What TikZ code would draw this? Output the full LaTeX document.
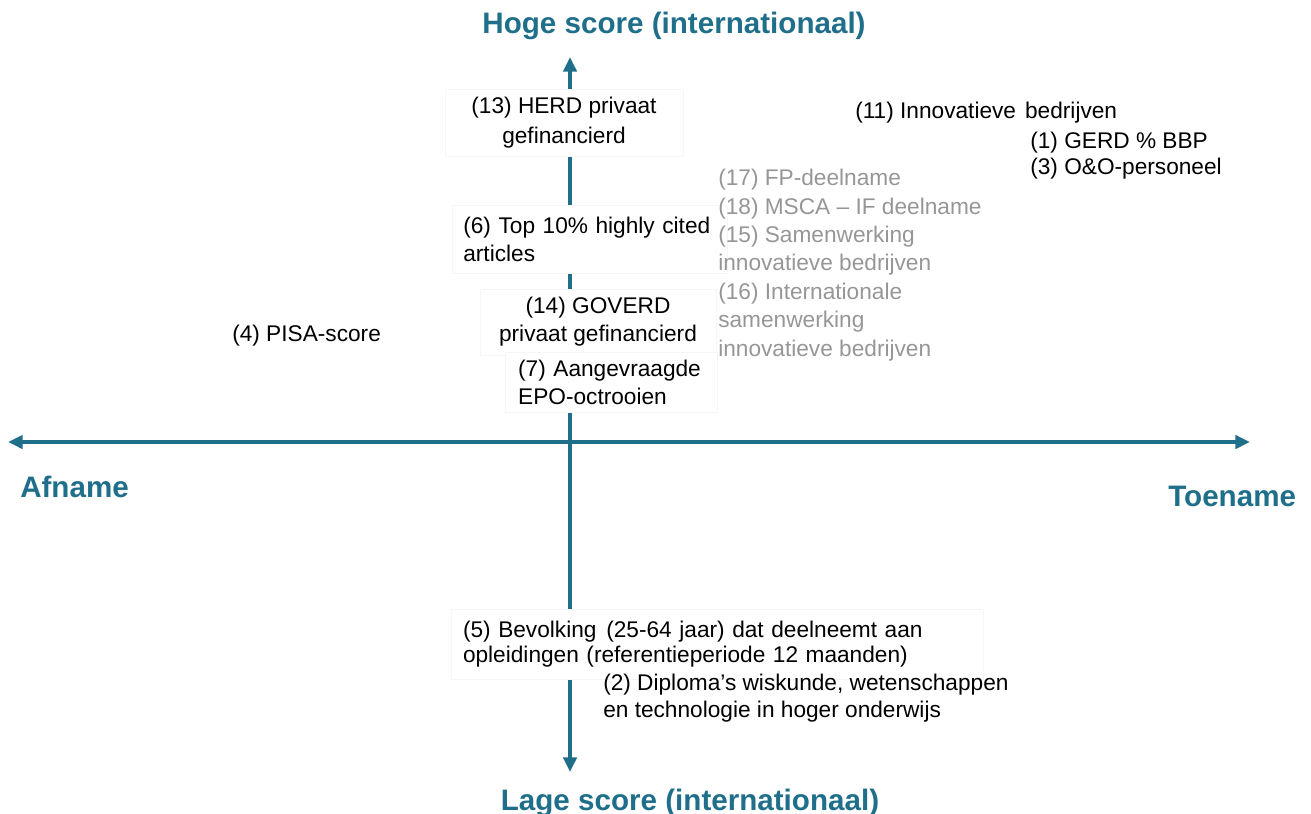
\documentclass[tikz,border=0pt]{standalone}
\usepackage{fontspec}
\setmainfont{Liberation Sans}
\usetikzlibrary{arrows.meta}
\definecolor{axisblue}{RGB}{31,111,139}
\definecolor{softgray}{RGB}{150,150,150}
\definecolor{boxedge}{RGB}{246,246,246}
\tikzset{axtip/.tip={Triangle[length=11pt,width=10pt]}}
\begin{document}
\begin{tikzpicture}[x=0.75pt,y=-0.75pt,
  axis/.style={line width=2.6pt, draw=axisblue, arrows={axtip-axtip}},
  axislabel/.style={font=\fontsize{22.2}{26}\selectfont\bfseries, text=axisblue, inner sep=0pt},
  item/.style={font=\fontsize{17}{21}\selectfont, inner sep=0pt, text=black},
  maskbox/.style={item, fill=white, draw=boxedge, line width=0.6pt},
  grayitem/.style={item, text=softgray}]

\useasboundingbox (0,0) rectangle (1311,814);

% axis ends
\coordinate (leftend) at (8,442);
\coordinate (rightend) at (1250,442);
\coordinate (topend) at (570,57);
\coordinate (bottomend) at (570,772);

\draw[axis] (leftend) -- (rightend);
\draw[axis] (bottomend) -- (topend);

% axis titles
\node[axislabel, anchor=base] (hoog) at (674,33) {Hoge score (internationaal)};
\node[axislabel, anchor=base] (laag) at (690,810) {Lage score (internationaal)};
\node[axislabel, anchor=base west] (afname) at (20,497) {Afname};
\node[axislabel, anchor=base west] (toename) at (1168,506) {Toename};

% boxed items on the vertical axis
\node[maskbox, align=center, minimum width=178.5pt, minimum height=50.25pt,
      font=\fontsize{17}{22.5}\selectfont] (n13) at (564,123)
  {(13) HERD privaat\\gefinancierd};
\node[maskbox, align=left, text width=190pt, inner xsep=8.25pt, minimum height=51pt] (n6) at (590,239)
  {(6) Top 10\% highly cited\\articles};
\node[maskbox, align=center, minimum width=177pt, minimum height=49.5pt] (n14) at (598,322)
  {(14) GOVERD\\privaat gefinancierd};
\node[maskbox, align=left, text width=140pt, inner xsep=9.75pt, minimum height=45pt] (n7) at (611.5,382)
  {(7) Aangevraagde\\EPO-octrooien};
\node[maskbox, align=left, text width=381pt, inner xsep=9pt, minimum height=52.5pt,
      font=\fontsize{17}{18.5}\selectfont] (n5) at (717,644)
  {(5) Bevolking\hspace{0.1em} (25-64 jaar) dat deelneemt aan\\opleidingen (referentieperiode 12 maanden)};

% free items
\node[item, align=left, anchor=west, font=\fontsize{17}{20.25}\selectfont] (n2) at (603,698)
  {(2) Diploma’s wiskunde, wetenschappen\\en technologie in hoger onderwijs};
\node[item, anchor=west] (n4) at (232,336) {(4) PISA-score};
\node[item, anchor=west] (n11) at (855,113) {(11) Innovatieve\hspace{0.12em} bedrijven};
\node[item, align=left, anchor=west, font=\fontsize{17}{19.5}\selectfont] (n1) at (1030,156)
  {(1) GERD \% BBP\\(3) O\&O-personeel};
\node[grayitem, align=left, anchor=west, font=\fontsize{17}{21.3}\selectfont] (ngray) at (718,265)
  {(17) FP-deelname\\(18) MSCA – IF deelname\\(15) Samenwerking\\innovatieve bedrijven\\(16) Internationale\\samenwerking\\innovatieve bedrijven};
\end{tikzpicture}
\end{document}
